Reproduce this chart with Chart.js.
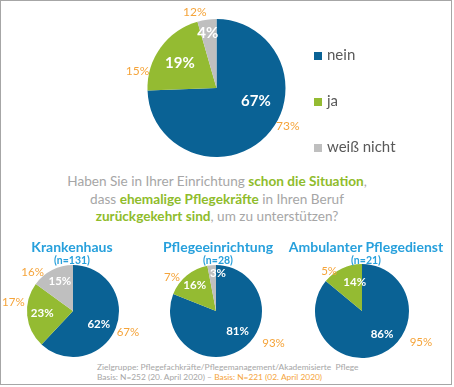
<!DOCTYPE html>
<html>
<head>
<meta charset="utf-8">
<script src="https://cdn.jsdelivr.net/npm/chart.js@4"></script>
<style>
  body { margin: 0; background: #fff; font-family: Lato, "Open Sans", sans-serif; }
  #frame { position: absolute; left: 0; top: 0; width: 450px; height: 383px; border: 1px solid #a6a6a6; }
  canvas { position: absolute; }
  .legend { position: absolute; left: 314px; font-size: 15px; color: #595959; }
  .legend span { display: inline-block; width: 8px; height: 8px; margin-right: 5px; }
  .question { position: absolute; left: 0; top: 173px; width: 434px; text-align: center;
              font-size: 13.6px; line-height: 17.5px; color: #a6a6a6; }
  .question b { color: #8fbc2b; }
  .title { position: absolute; text-align: center; color: #27a0dc; font-weight: bold; width: 180px; }
  .title .t { font-size: 14px; line-height: 16px; }
  .title .n { font-size: 10.5px; line-height: 11px; }
  .foot { position: absolute; left: 97px; font-size: 8.4px; color: #a6a6a6; white-space: pre; }
  .foot b { color: #f5a43a; font-weight: normal; }
</style>
</head>
<body>
<div id="frame"></div>

<canvas id="gesamt" width="240" height="172" style="left:100px;top:0px"></canvas>
<canvas id="krankenhaus" width="150" height="100" style="left:0px;top:262px"></canvas>
<canvas id="pflege" width="150" height="100" style="left:150px;top:262px"></canvas>
<canvas id="ambulant" width="154" height="100" style="left:300px;top:262px"></canvas>

<div class="legend" style="top:45px"><span style="background:#0a6295"></span>nein</div>
<div class="legend" style="top:91px"><span style="background:#94bb32"></span>ja</div>
<div class="legend" style="top:137px"><span style="background:#bfbfbf"></span>weiß nicht</div>

<div class="question">
  Haben Sie in Ihrer Einrichtung <b>schon die Situation</b>,<br>
  dass <b>ehemalige Pflegekräfte</b> in Ihren Beruf<br>
  <b>zurückgekehrt sind</b>, um zu unterstützen?
</div>

<div class="title" style="left:-18px;top:239px"><div class="t">Krankenhaus</div><div class="n">(n=131)</div></div>
<div class="title" style="left:128px;top:239px"><div class="t">Pflegeeinrichtung</div><div class="n">(n=28)</div></div>
<div class="title" style="left:276px;top:239px"><div class="t">Ambulanter Pflegedienst</div><div class="n">(n=21)</div></div>

<div class="foot" style="top:362px">Zielgruppe: Pflegefachkräfte/Pflegemanagement/Akademisierte  Pflege</div>
<div class="foot" style="top:372px">Basis: N=252 (20. April 2020) – <b>Basis: N=221 (02. April 2020)</b></div>

<script>
const categories = ['nein', 'ja', 'weiß nicht'];
const colors = ['#0a6295', '#94bb32', '#bfbfbf'];

// aktuelle Werte (20. April 2020)
const gesamtValues = [67, 19, 4];
const krankenhausValues = [62, 23, 15];
const pflegeValues = [81, 16, 3];
const ambulantValues = [86, 14, 0];

// Vergleichswerte (02. April 2020)
const gesamtPrev = [73, 15, 12];
const krankenhausPrev = [67, 17, 16];
const pflegePrev = [93, 7, null];
const ambulantPrev = [95, 5, null];

// draws white value labels inside and orange comparison labels outside
const pieLabels = {
  id: 'pieLabels',
  afterDatasetsDraw(chart, args, opts) {
    const ctx = chart.ctx;
    const meta = chart.getDatasetMeta(0);
    const data = chart.data.datasets[0].data;
    ctx.save();
    ctx.textAlign = 'center';
    ctx.textBaseline = 'middle';
    meta.data.forEach((arc, i) => {
      const { x, y, outerRadius } = arc.getProps(['x', 'y', 'outerRadius'], true);
      if (data[i]) {
        const [a, f] = opts.inner[i];
        const rad = a * Math.PI / 180;
        ctx.font = opts.innerFont;
        ctx.fillStyle = '#fff';
        ctx.fillText(data[i] + '%', x + Math.cos(rad) * outerRadius * f, y + Math.sin(rad) * outerRadius * f);
      }
      if (opts.prev[i] != null) {
        const [a, f] = opts.outer[i];
        const rad = a * Math.PI / 180;
        ctx.font = opts.outerFont;
        ctx.fillStyle = '#f5a43a';
        ctx.fillText(opts.prev[i] + '%', x + Math.cos(rad) * outerRadius * f, y + Math.sin(rad) * outerRadius * f);
      }
    });
    ctx.restore();
  }
};

function makePie(id, values, prev, cx, cy, r, inner, outer, innerFont, outerFont) {
  const canvas = document.getElementById(id);
  const w = canvas.width, h = canvas.height;
  return new Chart(canvas, {
    type: 'pie',
    data: {
      labels: categories,
      datasets: [{ data: values, backgroundColor: colors, borderWidth: 0 }]
    },
    options: {
      responsive: false,
      animation: false,
      layout: { padding: { left: cx - r, right: w - cx - r, top: cy - r, bottom: h - cy - r } },
      plugins: {
        legend: { display: false },
        tooltip: { enabled: false },
        pieLabels: { prev: prev, inner: inner, outer: outer, innerFont: innerFont, outerFont: outerFont }
      }
    },
    plugins: [pieLabels]
  });
}

makePie('gesamt', gesamtValues, gesamtPrev, 116.5, 88, 69,
  [[18, 0.6], [214, 0.64], [261, 0.8]],
  [[28, 1.17], [192, 1.17], [-106, 1.14]],
  'bold 15px Lato', '12px Lato');

makePie('krankenhaus', krankenhausValues, krankenhausPrev, 73, 49, 46,
  [[27, 0.63], [176, 0.67], [246, 0.7]],
  [[21, 1.28], [188, 1.31], [224, 1.22]],
  'bold 11.5px Lato', '11.5px Lato');

makePie('pflege', pflegeValues, pflegePrev, 66, 49, 46,
  [[44, 0.65], [230, 0.72], [273, 0.83]],
  [[29, 1.43], [217, 1.2], [0, 0]],
  'bold 11.5px Lato', '11.5px Lato');

makePie('ambulant', ambulantValues, ambulantPrev, 62, 49, 47,
  [[49, 0.65], [256, 0.64], [0, 0]],
  [[28, 1.42], [230, 1.09], [0, 0]],
  'bold 11.5px Lato', '11.5px Lato');
</script>
</body>
</html>
